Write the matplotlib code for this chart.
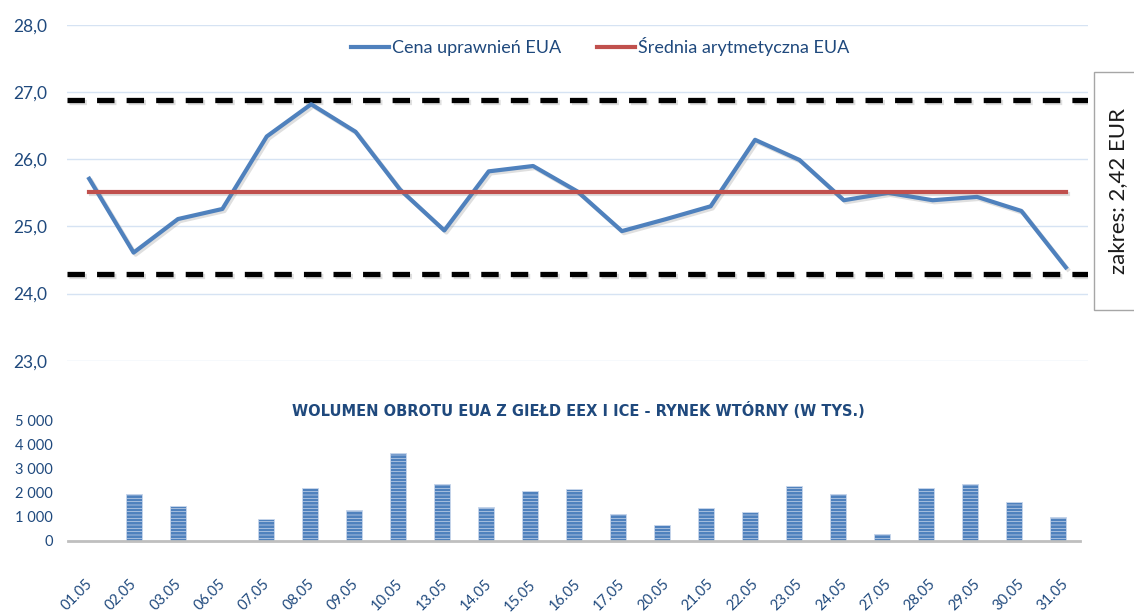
import matplotlib.pyplot as plt
import matplotlib.patheffects as pe
from matplotlib.patches import Rectangle
from matplotlib.lines import Line2D
from matplotlib.ticker import FuncFormatter
from matplotlib.transforms import blended_transform_factory

daty = ['01.05', '02.05', '03.05', '06.05', '07.05', '08.05', '09.05', '10.05',
        '13.05', '14.05', '15.05', '16.05', '17.05', '20.05', '21.05', '22.05',
        '23.05', '24.05', '27.05', '28.05', '29.05', '30.05', '31.05']
cena_eua = [25.71, 24.61, 25.11, 25.26, 26.34, 26.82, 26.41, 25.55,
            24.94, 25.82, 25.90, 25.52, 24.93, 25.11, 25.30, 26.29,
            25.99, 25.39, 25.50, 25.39, 25.44, 25.23, 24.39]
srednia_eua = 25.52
gorna_granica = 26.89
dolna_granica = 24.29
wolumen = [0, 1950, 1450, 0, 915, 2190, 1270, 3630,
           2360, 1390, 2070, 2135, 1100, 680, 1380, 1210,
           2290, 1950, 280, 2190, 2360, 1600, 1000]
ceny_ticks = [23, 24, 25, 26, 27, 28]
wolumen_ticks = [0, 1000, 2000, 3000, 4000, 5000]

BLUE = '#4F81BD'
RED = '#C0504D'
TXT = '#1F497D'
GRID = '#D6E3F3'
FONT = ['Lato', 'DejaVu Sans']

W, H = 1134, 612
fig = plt.figure(figsize=(W / 100, H / 100), dpi=100)


def box(l, t, r, b):
    return [l / W, 1 - b / H, (r - l) / W, (b - t) / H]


# --- price chart ---
ax = fig.add_axes(box(67, 25, 1088, 360.7))
ax.patch.set_alpha(0)
x = list(range(len(daty)))
ax.set_xlim(-0.5, len(daty) - 0.5)
ax.set_ylim(23, 28)
ax.set_yticks(ceny_ticks)
ax.yaxis.set_major_formatter(FuncFormatter(lambda v, p: f'{v:.1f}'.replace('.', ',')))
ax.set_xticks([])
ax.grid(axis='y', color=GRID, lw=1)
ax.set_axisbelow(True)
for s in ax.spines.values():
    s.set_visible(False)
ax.tick_params(axis='y', length=0, pad=14, labelcolor=TXT, labelsize=12.5)
for lab in ax.get_yticklabels():
    lab.set_family(FONT)

shadow = [pe.SimpleLineShadow(offset=(1.5, -1.5), alpha=0.25, shadow_color='gray'), pe.Normal()]
for lvl in (gorna_granica, dolna_granica):
    ax.axhline(lvl, color='black', lw=3.8, dashes=(3.3, 2.3), path_effects=shadow, zorder=3)
ax.plot(x, cena_eua, color=BLUE, lw=3, path_effects=shadow, zorder=4, solid_joinstyle='round')
ax.plot([x[0], x[-1]], [srednia_eua, srednia_eua], color=RED, lw=3, path_effects=shadow, zorder=5)

handles = [Line2D([], [], color=BLUE, lw=3), Line2D([], [], color=RED, lw=3)]
fig.legend(handles, ['Cena uprawnień EUA', 'Średnia arytmetyczna EUA'], ncol=2,
           loc='center', bbox_to_anchor=(600 / W, 1 - 47 / H), frameon=False,
           handlelength=2.1, handletextpad=0.15, columnspacing=2.0,
           prop={'family': FONT, 'size': 13}, labelcolor=TXT)

# x labels, aligned to price chart positions
tr = blended_transform_factory(ax.transData, fig.transFigure)
for i, d in enumerate(daty):
    ax.text(i + 0.02, 1 - 582 / H, d, transform=tr, rotation=45, rotation_mode='anchor',
            ha='right', va='center', color=TXT, fontsize=10.5, family=FONT)

# range box
fig.add_artist(Rectangle((1094 / W, 1 - 310 / H), 60 / W, 238 / H, transform=fig.transFigure,
                         facecolor='white', edgecolor='#A6A6A6', lw=1, clip_on=False))
fig.text(1118 / W, 1 - 191 / H, 'zakres: 2,42 EUR', rotation=90, ha='center', va='center',
         fontsize=16, family=FONT, color='#1A1A1A')

# --- volume chart ---
ax2 = fig.add_axes(box(68, 420, 1080, 541))
ax2.patch.set_alpha(0)
plt.rcParams['hatch.linewidth'] = 0.5
ax2.bar(x, wolumen, width=0.36, color=BLUE, edgecolor='#C9D7EC', lw=0.6, hatch='-----')
ax2.set_xlim(-0.5, len(daty) - 0.5)
ax2.set_ylim(0, 5000)
ax2.set_yticks(wolumen_ticks)
ax2.yaxis.set_major_formatter(FuncFormatter(lambda v, p: f'{v:,.0f}'.replace(',', ' ')))
ax2.set_xticks([])
for s in ['top', 'right', 'left']:
    ax2.spines[s].set_visible(False)
ax2.spines['bottom'].set_color('#BFBFBF')
ax2.spines['bottom'].set_linewidth(2)
ax2.tick_params(axis='y', length=0, pad=11, labelcolor=TXT, labelsize=10.5)
for lab in ax2.get_yticklabels():
    lab.set_family(FONT)

fig.text(578 / W, 1 - 411 / H, 'WOLUMEN OBROTU EUA Z GIEŁD EEX I ICE - RYNEK WTÓRNY (W TYS.)',
         ha='center', va='center', fontsize=10.5, fontweight='bold', color=TXT, family='DejaVu Sans')

fig.savefig('out.png', dpi=100)
